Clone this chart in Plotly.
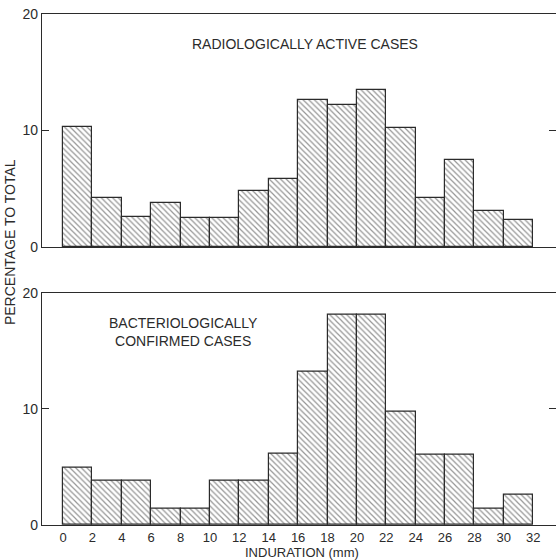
import plotly.graph_objects as go

bin_left = [0, 2, 4, 6, 8, 10, 12, 14, 16, 18, 20, 22, 24, 26, 28, 30]
radiological = [10.3, 4.2, 2.55, 3.75, 2.5, 2.5, 4.85, 5.8, 12.65, 12.15, 13.45, 10.25, 4.25, 7.5, 3.1, 2.3]
bacteriological = [4.9, 3.85, 3.85, 1.4, 1.4, 3.85, 3.85, 6.1, 13.2, 18.1, 18.1, 9.75, 6.05, 6.05, 1.4, 2.65]
x_ticks = list(range(0, 34, 2))
y_ticks = [0, 10, 20]
bin_width = 2

centers = [b + bin_width / 2 for b in bin_left]
INK = "#2b2b2b"
FONT = "Liberation Sans"

def bar(vals, yax):
    return go.Bar(
        x=centers, y=vals, width=[bin_width] * len(vals), yaxis=yax, xaxis="x" if yax == "y" else "x2",
        marker=dict(color="white", line=dict(color=INK, width=1.2),
                    pattern=dict(shape="\\", fgcolor=INK, bgcolor="white", size=4, solidity=0.3)),
        showlegend=False, hoverinfo="x+y",
    )

fig = go.Figure()
fig.add_trace(bar(bacteriological, "y"))
fig.add_trace(bar(radiological, "y2"))
# helper traces so that the right-hand tick axes render
fig.add_trace(go.Scatter(x=[], y=[], xaxis="x", yaxis="y3", showlegend=False))
fig.add_trace(go.Scatter(x=[], y=[], xaxis="x2", yaxis="y4", showlegend=False))

xr = [-1.43, 33.55]
common_x = dict(range=xr, showline=True, linecolor=INK, linewidth=1.3, mirror=True,
                showgrid=False, zeroline=False, ticks="", tickvals=x_ticks)
common_y = dict(range=[0, 20], showline=True, linecolor=INK, linewidth=1.3,
                showgrid=False, zeroline=False, ticks="inside", ticklen=7, tickcolor=INK,
                tickwidth=1.3, tickvals=y_ticks, tickfont=dict(size=14, color=INK, family=FONT))
right_y = dict(range=[0, 20], side="right", showline=False, showgrid=False, zeroline=False,
               ticks="inside", ticklen=7, tickcolor=INK, tickwidth=1.3, tickvals=[10],
               showticklabels=False)

fig.update_layout(
    width=556, height=560,
    margin=dict(l=42, r=0, t=14, b=35),
    paper_bgcolor="white", plot_bgcolor="white",
    bargap=0,
    font=dict(family=FONT, size=14, color=INK),
    xaxis=dict(**common_x, anchor="y", domain=[0, 1],
               tickfont=dict(size=13, color=INK, family=FONT)),
    xaxis2=dict(**common_x, anchor="y2", domain=[0, 1], showticklabels=False),
    yaxis=dict(**common_y, domain=[0, 0.4546], anchor="x"),
    yaxis2=dict(**common_y, domain=[0.544, 1], anchor="x2"),
    yaxis3=dict(**right_y, overlaying="y", anchor="x"),
    yaxis4=dict(**right_y, overlaying="y2", anchor="x2"),
    annotations=[
        dict(text="RADIOLOGICALLY ACTIVE CASES", x=16.47, y=17.4, xref="x2", yref="y2",
             showarrow=False, font=dict(size=14, color=INK, family=FONT)),
        dict(text="BACTERIOLOGICALLY<br>CONFIRMED CASES", x=8.2, y=16.6, xref="x", yref="y",
             showarrow=False, font=dict(size=14, color=INK, family=FONT)),
        dict(text="INDURATION (mm)", x=0.505, y=-0.054, xref="paper", yref="paper",
             yanchor="middle", showarrow=False, font=dict(size=13, color=INK, family=FONT)),
        dict(text="PERCENTAGE TO TOTAL", x=-0.061, y=0.553, xref="paper", yref="paper",
             textangle=-90, xanchor="center", yanchor="middle", showarrow=False,
             font=dict(size=14, color=INK, family=FONT)),
    ],
)

fig.write_html("out.html", config={"displayModeBar": False},
               post_script="document.body.style.margin='0';document.body.style.overflow='hidden';")
